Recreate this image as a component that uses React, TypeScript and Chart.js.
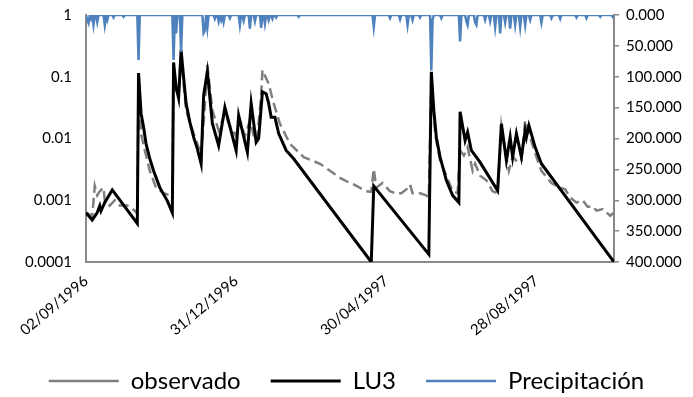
import React, { useEffect, useRef } from "react";
import { Chart, registerables } from "chart.js";

Chart.register(...registerables);

// Day index counted from 02/09/1996
const START = { y: 1996, m: 8, d: 2 };
const LAST_DAY = 422;
const X_TICK_DAYS = [0, 120, 240, 360];

const seriesNames = ["observado", "LU3", "Precipitación"];

// LU3 simulated series (day, value)
const luDays = [0, 5, 9, 11, 12, 15, 21, 41, 42, 44, 46, 48, 51, 54, 59, 65, 69, 70, 72, 74, 76, 78, 80, 83, 86, 89, 92, 94, 97, 101, 106, 111, 120, 122, 129, 132, 136, 138, 141, 144, 146, 148, 151, 154, 160, 166, 228, 230, 274, 276, 278, 279, 280, 283, 286, 288, 293, 298, 299, 303, 305, 308, 312, 315, 329, 332, 336, 339, 341, 344, 348, 351, 352, 354, 359, 364, 422];
const luValues = [0.00063, 0.00048, 0.00063, 0.00081, 0.00067, 0.00092, 0.00147, 0.00042, 0.115, 0.0255, 0.0153, 0.0082, 0.0047, 0.003, 0.0016, 0.00098, 0.00063, 0.17, 0.068, 0.045, 0.27, 0.099, 0.037, 0.0184, 0.0105, 0.0068, 0.0039, 0.05, 0.12, 0.0175, 0.0077, 0.032, 0.0064, 0.0237, 0.006, 0.037, 0.0087, 0.01, 0.057, 0.053, 0.037, 0.022, 0.022, 0.012, 0.0064, 0.0047, 0.0001, 0.0017, 0.000133, 0.12, 0.0285, 0.0173, 0.0105, 0.005, 0.003, 0.0021, 0.0012, 0.00092, 0.027, 0.0093, 0.0127, 0.0064, 0.005, 0.0041, 0.00143, 0.0173, 0.0044, 0.0105, 0.005, 0.012, 0.005, 0.0135, 0.0105, 0.0163, 0.0072, 0.0039, 0.0001];

// Observed series (day, value)
const obsDays = [0, 5, 7, 9, 11, 14, 15, 19, 23, 27, 33, 39, 41, 42, 44, 47, 51, 56, 62, 67, 69, 70, 72, 74, 76, 80, 87, 91, 92, 95, 97, 101, 106, 111, 115, 120, 123, 127, 131, 135, 137, 140, 141, 146, 150, 155, 163, 174, 187, 195, 203, 211, 214, 224, 228, 230, 232, 237, 243, 247, 252, 256, 259, 261, 267, 272, 274, 276, 279, 283, 288, 293, 297, 299, 302, 305, 309, 311, 315, 320, 325, 329, 332, 335, 338, 341, 345, 348, 351, 355, 360, 364, 372, 379, 383, 387, 392, 397, 401, 405, 408, 413, 419, 422];
const obsValues = [0.00063, 0.00056, 0.0017, 0.0012, 0.0014, 0.0016, 0.001, 0.00082, 0.001, 0.00082, 0.00082, 0.00068, 0.0006, 0.088, 0.012, 0.0064, 0.003, 0.0016, 0.0013, 0.0012, 0.0011, 0.14, 0.06, 0.05, 0.22, 0.0285, 0.0105, 0.0064, 0.0053, 0.034, 0.154, 0.0285, 0.0135, 0.025, 0.016, 0.011, 0.0196, 0.011, 0.0196, 0.0093, 0.011, 0.05, 0.128, 0.077, 0.037, 0.0173, 0.0082, 0.005, 0.0039, 0.003, 0.0023, 0.0019, 0.0018, 0.0014, 0.00137, 0.0032, 0.0016, 0.0019, 0.0014, 0.0013, 0.0013, 0.0015, 0.0018, 0.0013, 0.0013, 0.0012, 0.0011, 0.105, 0.012, 0.0044, 0.0025, 0.0014, 0.0013, 0.0064, 0.0053, 0.0072, 0.003, 0.0039, 0.0025, 0.0021, 0.0014, 0.0013, 0.016, 0.0064, 0.003, 0.0051, 0.0041, 0.0044, 0.0196, 0.0105, 0.005, 0.003, 0.0019, 0.0016, 0.0015, 0.0011, 0.00092, 0.001, 0.00078, 0.0008, 0.00068, 0.00072, 0.00056, 0.00063];

// Precipitation events (day, mm); all other days are 0
const rainDays = [1, 2, 4, 6, 9, 15, 17, 22, 30, 42, 70, 72, 76, 94, 95, 97, 103, 106, 108, 110, 115, 123, 126, 131, 135, 140, 143, 146, 149, 152, 170, 230, 243, 251, 257, 261, 267, 276, 277, 284, 299, 304, 305, 311, 312, 319, 323, 327, 331, 335, 339, 343, 347, 351, 355, 364, 372, 379, 392, 400, 411, 421];
const rainMm = [8, 13, 6, 16, 11, 16, 8, 4, 3, 73, 73, 30, 60, 29, 25, 20, 6, 10, 8, 11, 5, 16, 9, 22, 10, 21, 14, 8, 6, 4, 3, 19, 5, 7, 16, 8, 4, 90, 8, 5, 43, 10, 16, 12, 16, 8, 10, 19, 30, 12, 22, 16, 19, 16, 8, 12, 5, 6, 4, 5, 3, 3];

const RIGHT_MAX = 400;
const RIGHT_STEP = 50;
const LOG_TICKS = [1, 0.1, 0.01, 0.001, 0.0001];
const LOG_LABELS = ["1", "0.1", "0.01", "0.001", "0.0001"];

function dayLabel(day: number): string {
  const dt = new Date(START.y, START.m, START.d + day);
  const dd = String(dt.getDate()).padStart(2, "0");
  const mm = String(dt.getMonth() + 1).padStart(2, "0");
  return `${dd}/${mm}/${dt.getFullYear()}`;
}

const FONT = "Lato, 'Liberation Sans', sans-serif";
const AXIS_GRAY = "#898989";

export default function App() {
  const ref = useRef<HTMLCanvasElement | null>(null);

  useEffect(() => {
    document.body.style.margin = "0";
    const canvas = ref.current;
    if (!canvas) return;

    const luData = luDays.map((d, i) => ({ x: d, y: luValues[i] }));
    const obsData = obsDays.map((d, i) => ({ x: d, y: obsValues[i] }));
    const rainData: { x: number; y: number }[] = [];
    for (let d = 0; d <= LAST_DAY; d++) {
      const k = rainDays.indexOf(d);
      rainData.push({ x: d, y: k >= 0 ? rainMm[k] : 0 });
    }

    const fixVPad = (scale: any) => {
      scale.paddingTop = 9;
      scale.paddingBottom = 9;
    };

    const chart = new Chart(canvas, {
      type: "line",
      data: {
        datasets: [
          {
            label: seriesNames[0],
            data: obsData,
            yAxisID: "y",
            borderColor: "#7f7f7f",
            backgroundColor: "#7f7f7f",
            borderWidth: 2.5,
            borderDash: [10, 5],
            pointRadius: 0,
            tension: 0,
            order: 3,
          },
          {
            label: seriesNames[1],
            data: luData,
            yAxisID: "y",
            borderColor: "#000000",
            backgroundColor: "#000000",
            borderWidth: 3,
            pointRadius: 0,
            tension: 0,
            order: 2,
          },
          {
            label: seriesNames[2],
            data: rainData,
            yAxisID: "y2",
            borderColor: "#4f81bd",
            backgroundColor: "#4f81bd",
            borderWidth: 2.5,
            pointRadius: 0,
            tension: 0,
            order: 1,
          },
        ],
      },
      options: {
        animation: false,
        responsive: false,
        devicePixelRatio: 1,
        layout: { padding: { top: 15, left: 0, right: 0, bottom: -6 } },
        plugins: {
          tooltip: { enabled: false },
          legend: {
            position: "bottom",
            labels: {
              usePointStyle: true,
              pointStyle: "line",
              pointStyleWidth: 70,
              boxWidth: 70,
              boxHeight: 20,
              padding: 30,
              color: "#000000",
              font: { family: FONT, size: 24 },
              sort: (a: any, b: any) => a.datasetIndex - b.datasetIndex,
            },
          },
        },
        scales: {
          x: {
            type: "linear",
            min: 0,
            max: LAST_DAY,
            afterBuildTicks: (scale: any) => {
              scale.ticks = X_TICK_DAYS.map((v) => ({ value: v }));
            },
            afterFit: (scale: any) => {
              scale.height = 77;
            },
            ticks: {
              autoSkip: false,
              maxRotation: 40,
              minRotation: 40,
              padding: 2,
              color: "#000000",
              font: { family: FONT, size: 15 },
              callback: (v: any) => dayLabel(Number(v)),
            },
            grid: { display: false },
            border: { display: true, color: AXIS_GRAY, width: 2 },
          },
          y: {
            type: "logarithmic",
            position: "left",
            min: 0.0001,
            max: 1,
            afterBuildTicks: (scale: any) => {
              scale.ticks = LOG_TICKS.map((v) => ({ value: v }));
            },
            afterFit: (scale: any) => {
              scale.width = 86;
              fixVPad(scale);
            },
            ticks: {
              padding: 14,
              color: "#000000",
              font: { family: FONT, size: 15 },
              callback: (v: any) => {
                const k = LOG_TICKS.indexOf(Number(v));
                return k >= 0 ? LOG_LABELS[k] : "";
              },
            },
            grid: { display: false, drawTicks: false },
            border: { display: true, color: AXIS_GRAY, width: 2 },
          },
          y2: {
            type: "linear",
            position: "right",
            reverse: true,
            min: 0,
            max: RIGHT_MAX,
            afterFit: (scale: any) => {
              scale.width = 79;
              fixVPad(scale);
            },
            ticks: {
              stepSize: RIGHT_STEP,
              padding: 7,
              color: "#000000",
              font: { family: FONT, size: 15 },
              callback: (v: any) => Number(v).toFixed(3),
            },
            grid: {
              display: true,
              drawOnChartArea: false,
              drawTicks: true,
              tickLength: 5,
              color: AXIS_GRAY,
              lineWidth: 1.5,
            },
            border: { display: true, color: AXIS_GRAY, width: 2 },
          },
        },
      },
    } as any);

    return () => chart.destroy();
  }, []);

  return (
    <div style={{ width: 693, height: 397 }}>
      <canvas ref={ref} width={693} height={397} style={{ width: 693, height: 397, display: "block" }} />
    </div>
  );
}
